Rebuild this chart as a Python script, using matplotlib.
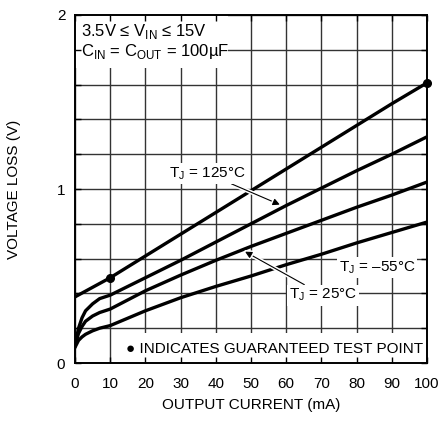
import matplotlib
matplotlib.use("Agg")
import matplotlib.pyplot as plt
import matplotlib.patheffects as pe
from matplotlib.patches import Rectangle

plt.rcParams['font.family'] = ['Liberation Sans', 'DejaVu Sans']
plt.rcParams['mathtext.fontset'] = 'custom'
plt.rcParams['mathtext.rm'] = 'Liberation Sans'

# data
current = [0, 1, 2, 3, 5, 7, 10, 20, 30, 40, 50, 60, 70, 80, 90, 100]
limit_x = [0, 10, 20, 30, 40, 50, 60, 70, 80, 90, 100]
limit_v = [0.38, 0.49, 0.615, 0.74, 0.865, 0.99, 1.115, 1.24, 1.365, 1.49, 1.61]
v_125 = [0.10, 0.20, 0.26, 0.30, 0.34, 0.37, 0.39, 0.49, 0.59, 0.695, 0.80, 0.905, 1.005, 1.105, 1.20, 1.30]
v_25 = [0.10, 0.17, 0.21, 0.24, 0.27, 0.29, 0.31, 0.415, 0.505, 0.59, 0.67, 0.745, 0.82, 0.895, 0.965, 1.04]
v_m55 = [0.09, 0.13, 0.15, 0.165, 0.185, 0.20, 0.215, 0.30, 0.375, 0.44, 0.50, 0.565, 0.625, 0.69, 0.75, 0.81]
test_x = [10, 100]
test_v = [0.49, 1.61]

x_ticks = [0, 10, 20, 30, 40, 50, 60, 70, 80, 90, 100]
x_labels = ['0', '10', '20', '30', '40', '50', '60', '70', '80', '90', '100']
y_ticks = [0, 0.2, 0.4, 0.6, 0.8, 1.0, 1.2, 1.4, 1.6, 1.8, 2.0]
y_labels = ['0', '', '', '', '', '1', '', '', '', '', '2']

fig = plt.figure(figsize=(4.41, 4.23), dpi=100)
ax = fig.add_axes([75/441, 1 - 363/423, 352/441, 348/423])
ax.set_xlim(0, 100)
ax.set_ylim(0, 2)

for xv in x_ticks:
    ax.axvline(xv, color='#333333', lw=1.0, zorder=0.5)
for yv in y_ticks:
    ax.axhline(yv, color='#333333', lw=1.0, zorder=0.5)

ax.add_patch(Rectangle((0, 0.848), 0.435, 0.152, transform=ax.transAxes,
                       facecolor='white', edgecolor='none', zorder=1))
ax.add_patch(Rectangle((0.105, 0.0), 0.895, 0.086, transform=ax.transAxes,
                       facecolor='white', edgecolor='none', zorder=1))

lw = 2.4
ax.plot(limit_x, limit_v, color='black', lw=lw, zorder=2, solid_capstyle='butt')
ax.plot(current, v_125, color='black', lw=lw, zorder=2)
ax.plot(current, v_25, color='black', lw=lw, zorder=2)
ax.plot(current, v_m55, color='black', lw=lw, zorder=2)
ax.plot(test_x, test_v, 'o', color='black', ms=5.5, zorder=3, clip_on=False)

ax.set_xticks(x_ticks)
ax.set_xticklabels(x_labels)
ax.set_yticks(y_ticks)
ax.set_yticklabels(y_labels)
ax.tick_params(direction='in', length=4, width=1, top=True, right=True,
               labelsize=11, colors='black')
ax.tick_params(axis='x', pad=10)
ax.tick_params(axis='y', pad=7)
for s in ax.spines.values():
    s.set_linewidth(1.4)
    s.set_zorder(4)

ax.set_xlabel('OUTPUT CURRENT (mA)', fontsize=11, labelpad=5)
ax.set_ylabel('VOLTAGE LOSS (V)', fontsize=11, labelpad=26)

fs = 11
ax.text(1.8, 1.96, '3.5V ≤ V$_{\\mathregular{IN}}$ ≤ 15V\nC$_{\\mathregular{IN}}$ = C$_{\\mathregular{OUT}}$ = 100µF',
        fontsize=12, ha='left', va='top', zorder=5, linespacing=1.05)

bb = dict(facecolor='white', edgecolor='none', pad=1.5)
arr = dict(arrowstyle='-|>', color='black', lw=0.8, mutation_scale=10, shrinkA=0, shrinkB=0,
           path_effects=[pe.withStroke(linewidth=3, foreground='white')])
ax.annotate('T$_{\\mathregular{J}}$ = 125°C', xy=(58.2, 0.91), xytext=(37.5, 1.09),
            fontsize=fs, ha='center', va='center', bbox=bb, zorder=5, arrowprops=arr)
ax.annotate('T$_{\\mathregular{J}}$ = 25°C', xy=(48.3, 0.64), xytext=(70.5, 0.39),
            fontsize=fs, ha='center', va='center', bbox=bb, zorder=5, arrowprops=arr)
ax.text(85.8, 0.55, 'T$_{\\mathregular{J}}$ = –55°C', fontsize=fs, ha='center', va='center',
        bbox=bb, zorder=5)
ax.text(99, 0.08, '● INDICATES GUARANTEED TEST POINT', fontsize=fs, ha='right', va='center', zorder=5)

fig.savefig('out.png', dpi=100)
